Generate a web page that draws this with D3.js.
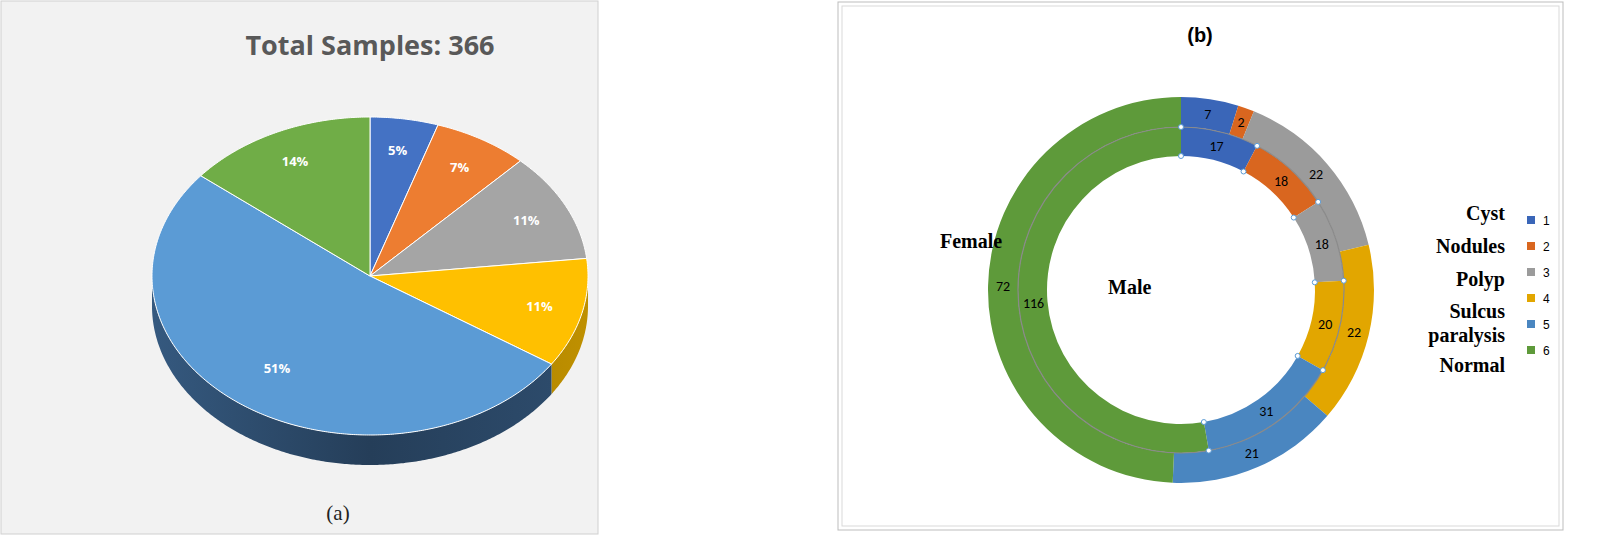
<!DOCTYPE html>
<html><head><meta charset="utf-8">
<script src="https://cdn.jsdelivr.net/npm/d3@7"></script>
<style>body{margin:0;background:#fff;}</style>
</head><body>
<svg id="chart" width="1598" height="547"></svg>
<script>
// data
const piePercent = [5, 7, 11, 11, 51, 14];
const pieColors = ["#4472c4", "#ed7d31", "#a5a5a5", "#ffc000", "#5b9bd5", "#70ad47"];
const pieSide = ["#2f5597", "#b35a1f", "#7b7b7b", "#bf9000", "#2e4d6e", "#4e7a31"];

const legendLabels = ["Cyst", "Nodules", "Polyp", "Sulcus\nparalysis", "Normal"];
const legendNums = ["1", "2", "3", "4", "5", "6"];
const femaleVals = [7, 2, 22, 22, 21, 72];
const maleVals = [17, 18, 18, 20, 31, 116];
const ringColors = ["#3a66b8", "#d9661f", "#9b9b9b", "#e2a600", "#4a86c0", "#5e9a3a"];

const svg = d3.select("#chart");

// ---------- panel (a): 3D pie ----------
svg.append("rect").attr("x", 1).attr("y", 1).attr("width", 597).attr("height", 533)
  .attr("fill", "#f2f2f2").attr("stroke", "#d0d0d0");
svg.append("text").attr("x", 370).attr("y", 55).attr("text-anchor", "middle")
  .style("font", "bold 27px 'Open Sans', Calibri, sans-serif").attr("fill", "#595959")
  .text("Total Samples: 366");
svg.append("text").attr("x", 338).attr("y", 520).attr("text-anchor", "middle")
  .style("font", "21px 'Liberation Serif', serif").attr("fill", "#222").text("(a)");

const cx = 370, cy = 276, rx = 218, ry = 159, depth = 30;
const pt = (a, dy = 0) => [cx + rx * Math.sin(a), cy - ry * Math.cos(a) + dy];
const arcs = d3.pie().sort(null)(piePercent);
const g3 = svg.append("g");

// side walls (front half only)
arcs.forEach((d, i) => {
  const s = Math.max(d.startAngle, Math.PI / 2), e = Math.min(d.endAngle, 3 * Math.PI / 2);
  if (e <= s) return;
  const steps = d3.range(s, e, 0.01).concat([e]);
  const top = steps.map(a => pt(a));
  const bot = steps.map(a => pt(a, depth)).reverse();
  const gradId = "side" + i;
  const gr = svg.append("defs").append("linearGradient").attr("id", gradId)
    .attr("gradientUnits", "userSpaceOnUse")
    .attr("x1", cx - rx).attr("x2", cx + rx).attr("y1", 0).attr("y2", 0);
  gr.append("stop").attr("offset", "0").attr("stop-color", d3.color(pieSide[i]).brighter(0.4));
  gr.append("stop").attr("offset", "0.5").attr("stop-color", d3.color(pieSide[i]).darker(0.6));
  gr.append("stop").attr("offset", "1").attr("stop-color", pieSide[i]);
  g3.append("path").attr("d", d3.line()(top.concat(bot)) + "Z").attr("fill", `url(#${gradId})`);
});

// top faces
arcs.forEach((d, i) => {
  const steps = d3.range(d.startAngle, d.endAngle, 0.01).concat([d.endAngle]);
  const poly = [[cx, cy]].concat(steps.map(a => pt(a)));
  g3.append("path").attr("d", d3.line()(poly) + "Z").attr("fill", pieColors[i])
    .attr("stroke", "#fff").attr("stroke-width", 1);
  const m = (d.startAngle + d.endAngle) / 2;
  const f = i === 4 ? 0.72 : 0.8;
  g3.append("text").attr("x", cx + rx * f * Math.sin(m)).attr("y", cy - ry * f * Math.cos(m) + 5)
    .attr("text-anchor", "middle").attr("fill", "#fff")
    .style("font", "bold 13px 'Open Sans', sans-serif").text(d.data + "%");
});

// ---------- panel (b): nested donut ----------
svg.append("rect").attr("x", 838).attr("y", 2).attr("width", 725).attr("height", 528)
  .attr("fill", "#fff").attr("stroke", "#bdbdbd");
svg.append("rect").attr("x", 842).attr("y", 6).attr("width", 717).attr("height", 520)
  .attr("fill", "none").attr("stroke", "#d9d9d9");
svg.append("text").attr("x", 1200).attr("y", 42).attr("text-anchor", "middle")
  .style("font", "bold 20px 'Liberation Sans', Arial, sans-serif").text("(b)");

const dx = 1181, dy = 290;
const gd = svg.append("g").attr("transform", `translate(${dx},${dy})`);
const pieB = d3.pie().sort(null);
const outerArc = d3.arc().innerRadius(163).outerRadius(193);
const innerArc = d3.arc().innerRadius(134).outerRadius(163);

const fArcs = pieB(femaleVals), mArcs = pieB(maleVals);
gd.selectAll(".f").data(fArcs).join("path").attr("d", outerArc)
  .attr("fill", (d, i) => ringColors[i]);
gd.selectAll(".m").data(mArcs).join("path").attr("d", innerArc)
  .attr("fill", (d, i) => ringColors[i]);
gd.append("circle").attr("r", 163).attr("fill", "none").attr("stroke", "#8a8a8a").attr("stroke-width", 1.2);

const lblFont = "14px Carlito, 'Liberation Sans', Calibri, sans-serif";
fArcs.forEach(d => {
  const c = d3.arc().innerRadius(178).outerRadius(178).centroid(d);
  gd.append("text").attr("x", c[0]).attr("y", c[1] + 5).attr("text-anchor", "middle")
    .style("font", lblFont).text(d.data);
});
mArcs.forEach(d => {
  const c = d3.arc().innerRadius(148).outerRadius(148).centroid(d);
  gd.append("text").attr("x", c[0]).attr("y", c[1] + 5).attr("text-anchor", "middle")
    .style("font", lblFont).text(d.data);
});
// selection handles on inner ring boundaries
mArcs.forEach(d => {
  [134, 163].forEach(r => {
    gd.append("circle").attr("cx", r * Math.sin(d.startAngle)).attr("cy", -r * Math.cos(d.startAngle))
      .attr("r", 2.5).attr("fill", "#fff").attr("stroke", "#5b9bd5").attr("stroke-width", 1);
  });
});

const serif = "bold 20px 'Liberation Serif', 'Times New Roman', serif";
svg.append("text").attr("x", 940).attr("y", 248).style("font", serif).text("Female");
svg.append("text").attr("x", 1108).attr("y", 294).style("font", serif).text("Male");

// legend
const legY = [220, 253, 286, 318, 372];
const sqY = [221, 247, 273, 299, 325, 351];
legendLabels.forEach((t, i) => {
  const lines = t.split("\n");
  lines.forEach((ln, k) => {
    svg.append("text").attr("x", 1505).attr("y", legY[i] + k * 24).attr("text-anchor", "end")
      .style("font", serif).text(ln);
  });
});
legendNums.forEach((n, i) => {
  svg.append("rect").attr("x", 1527).attr("y", sqY[i] - 5).attr("width", 8).attr("height", 8)
    .attr("fill", ringColors[i]);
  svg.append("text").attr("x", 1543).attr("y", sqY[i] + 4).style("font", "12px 'Liberation Sans', sans-serif").text(n);
});
</script>
</body></html>
